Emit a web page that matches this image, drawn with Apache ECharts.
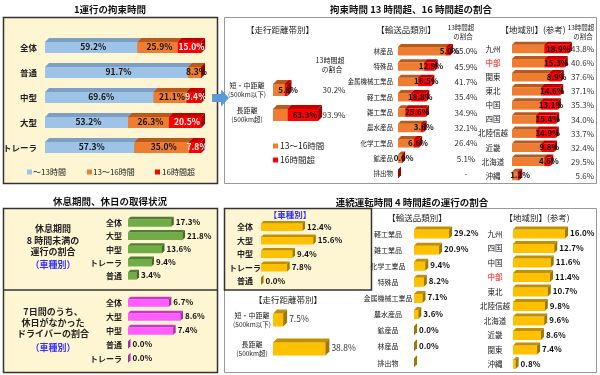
<!DOCTYPE html>
<html><head><meta charset="utf-8">
<script src="https://cdn.jsdelivr.net/npm/echarts@6/dist/echarts.min.js"></script>
<style>html,body{margin:0;padding:0;background:#fff}#c{width:600px;height:375px}</style>
</head><body><div id="c"></div>
<script>
const FF = '"Noto Sans CJK JP","Noto Sans",sans-serif';

// ---- data ----
const bindCats = ['全体','普通','中型','大型','トレーラ'];
const bindUnder13 = [59.2, 91.7, 69.6, 53.2, 57.3];
const bind13to16 = [25.9, 8.3, 21.1, 26.3, 35.0];
const bindOver16 = [15.0, 0, 9.4, 20.5, 7.8];

const distCats = ['短・中距離\n(500km以下)', '長距離\n(500km超)'];
const distOver13 = [30.2, 93.9];
const distOver16 = [5.8, 63.3];

const goodsCats = ['林産品','特殊品','金属機械工業品','軽工業品','雑工業品','農水産品','化学工業品','鉱産品','排出物'];
const goodsOver13 = [65.0, 45.9, 41.7, 35.4, 34.9, 32.1, 26.4, 5.1, null];
const goodsOver16 = [5.0, 12.9, 16.5, 18.8, 25.6, 3.6, 6.6, 0.0, null];

const regionCats = ['九州','中部','関東','東北','中国','四国','北陸信越','近畿','北海道','沖縄'];
const regionOver13 = [43.8, 40.6, 37.6, 37.1, 35.3, 34.0, 33.7, 32.4, 29.5, 5.6];
const regionOver16 = [18.9, 15.3, 8.9, 14.6, 13.1, 15.4, 14.9, 9.8, 4.6, 1.2];

const restCats = ['全体','大型','中型','トレーラ','普通'];
const restUnder8h = [17.3, 21.8, 13.6, 9.4, 3.4];

const holidayCats = ['全体','大型','中型','普通','トレーラ'];
const noHoliday = [6.7, 8.6, 7.4, 0.0, 0.0];

const driveVehCats = ['全体','大型','中型','トレーラ','普通'];
const driveVeh = [12.4, 15.6, 9.4, 7.8, 0.0];

const driveDistCats = ['短・中距離\n(500km以下)', '長距離\n(500km超)'];
const driveDist = [7.5, 38.8];

const driveGoodsCats = ['軽工業品','雑工業品','化学工業品','特殊品','金属機械工業品','農水産品','鉱産品','林産品','排出物'];
const driveGoods = [29.2, 20.9, 9.4, 8.2, 7.1, 3.6, 0.0, 0.0, null];

const driveRegionCats = ['九州','四国','中国','中部','東北','北陸信越','北海道','近畿','関東','沖縄'];
const driveRegion = [16.0, 12.7, 11.6, 11.4, 10.7, 9.8, 9.6, 8.6, 7.4, 0.8];

// ---- colours ----
const C = {
  blue:  {front:'#9DC3E6', top:'#7F9FC2', side:'#6C8DB0'},
  orange:{front:'#EE7D31', top:'#B85A1E', side:'#A34F19'},
  red:   {front:'#FF0000', top:'#C00000', side:'#A00000'},
  green: {front:'#70AD47', top:'#507E32', side:'#44692A'},
  pink:  {front:'#FF5CFF', top:'#C23BC2', side:'#A52FA5'},
  gold:  {front:'#FFC000', top:'#BF9000', side:'#A07800'}
};
const pct = v => (v == null ? null : v.toFixed(1) + '%');

const grids = [], xAxes = [], yAxes = [], series = [];

function catLabel(o) {
  return Object.assign({fontFamily: FF, fontSize: 8, color: '#222'}, o);
}
function addPanel(p) {
  const gi = grids.length;
  grids.push({left: p.left, top: p.top, width: p.max * p.scale, height: p.catH * p.cats.length});
  xAxes.push({gridIndex: gi, type: 'value', min: 0, max: p.max, show: false});
  const yi = yAxes.length;
  yAxes.push({gridIndex: gi, type: 'category', data: p.cats, inverse: true,
    axisLine: {show: false}, axisTick: {show: false}, splitLine: {show: false},
    axisLabel: p.label});
  if (p.rightCats) {
    yAxes.push({gridIndex: gi, type: 'category', data: p.rightCats, inverse: true, position: 'right',
      axisLine: {show: false}, axisTick: {show: false}, splitLine: {show: false},
      axisLabel: p.rightLabel});
  }
  return {xi: gi, yi};
}

function seg3d(ax, data, labels, col, st) {
  series.push({
    type: 'custom', xAxisIndex: ax.xi, yAxisIndex: ax.yi, clip: false, silent: true,
    data: data, encode: {x: [1, 2], y: 0},
    renderItem(params, api) {
      const cat = api.value(0), s = api.value(1), e = api.value(2);
      const a = api.coord([s, cat]), b = api.coord([e, cat]);
      const h = st.h, d = st.d, x0 = a[0], x1 = Math.max(b[0], a[0]), yc = a[1];
      const yt = yc - h / 2, yb = yc + h / 2;
      const ch = [
        {type: 'rect', shape: {x: x0, y: yt, width: x1 - x0, height: h}, style: {fill: col.front}},
        {type: 'polygon', shape: {points: [[x0, yt], [x0 + d, yt - d], [x1 + d, yt - d], [x1, yt]]}, style: {fill: col.top}},
        {type: 'polygon', shape: {points: [[x1, yt], [x1 + d, yt - d], [x1 + d, yb - d], [x1, yb]]}, style: {fill: col.side}}
      ];
      const lab = labels ? labels[params.dataIndex] : null;
      if (lab != null) {
        const base = {text: lab, fill: st.lc || '#111', fontFamily: FF, fontSize: st.fs || 8,
          fontWeight: st.fw || 'bold', verticalAlign: 'middle'};
        if (st.pos === 'center') {
          ch.push({type: 'text', z2: 10, style: Object.assign(base, {x: (x0 + x1) / 2 + d / 2, y: yc - 0.5, align: 'center'})});
        } else {
          ch.push({type: 'text', z2: 10, style: Object.assign(base, {x: x1 + d + 2, y: yc - d / 2 + 0.5, align: 'left'})});
        }
      }
      return {type: 'group', children: ch};
    }
  });
}

// ---- panel 1: 1運行の拘束時間 ----
const p1 = addPanel({left: 43, top: 35, catH: 25, cats: bindCats, max: 100, scale: 1.58,
  label: catLabel({fontSize: 8.5, fontWeight: 'bold', margin: 8})});
{
  const st = {h: 11, d: 4, pos: 'center', fs: 8.5};
  seg3d(p1, bindCats.map((c, i) => [i, 0, bindUnder13[i]]), bindUnder13.map(pct), C.blue, st);
  seg3d(p1, bindCats.map((c, i) => [i, bindUnder13[i], bindUnder13[i] + bind13to16[i]]), bind13to16.map(pct), C.orange, st);
  seg3d(p1, bindCats.map((c, i) => [i, bindUnder13[i] + bind13to16[i], bindUnder13[i] + bind13to16[i] + bindOver16[i]]),
    bindOver16.map(v => v > 0 ? pct(v) : null), C.red, Object.assign({}, st, {lc: '#fff'}));
}

// ---- panel 2a: distance ----
const twoLine = (fa, fb) => ({
  formatter: v => { const t = v.split('\n'); return '{a|' + t[0] + '}\n{b|' + t[1] + '}'; },
  rich: {a: {fontFamily: FF, fontSize: fa, color: '#222', lineHeight: 10, align: 'center'},
         b: {fontFamily: FF, fontSize: fb, color: '#222', lineHeight: 9, align: 'center'}}
});
const p2a = addPanel({left: 273, top: 77.5, catH: 25, cats: distCats, max: 100, scale: 0.48,
  label: Object.assign(catLabel({align: 'center', margin: 26}), twoLine(7, 6.5)),
  rightCats: distOver13.map(pct), rightLabel: catLabel({fontSize: 8, align: 'center', margin: 13, color: '#333'})});
{
  const st = {h: 12, d: 4, pos: 'center', fs: 8};
  seg3d(p2a, distCats.map((c, i) => [i, 0, distOver13[i] - distOver16[i]]), null, C.orange, st);
  seg3d(p2a, distCats.map((c, i) => [i, distOver13[i] - distOver16[i], distOver13[i]]), distOver16.map(pct), C.red, st);
}

// ---- panel 2b: goods ----
const p2b = addPanel({left: 398, top: 43.5, catH: 15.35, cats: goodsCats, max: 100, scale: 0.8,
  label: catLabel({fontSize: 6.5, align: 'right', margin: 5}),
  rightCats: goodsOver13.map(v => v == null ? '-' : pct(v)),
  rightLabel: catLabel({fontSize: 8, align: 'center', margin: -12, color: '#333'})});
{
  const st = {h: 8.5, d: 3, pos: 'center', fs: 8};
  seg3d(p2b, goodsCats.map((c, i) => [i, 0, (goodsOver13[i] || 0) - (goodsOver16[i] || 0)]), null, C.orange, st);
  seg3d(p2b, goodsCats.map((c, i) => [i, (goodsOver13[i] || 0) - (goodsOver16[i] || 0), goodsOver13[i] || 0]), goodsOver16.map(pct), C.red, st);
}

// ---- panel 2c: region ----
const redChubu = {
  formatter: v => v === '中部' ? '{r|' + v + '}' : v,
  rich: {r: {color: '#FF0000', fontFamily: FF, fontSize: 7.5}}
};
const p2c = addPanel({left: 512, top: 42, catH: 14.1, cats: regionCats, max: 50, scale: 1.3,
  label: Object.assign(catLabel({fontSize: 7.5, align: 'center', margin: 19}), redChubu),
  rightCats: regionOver13.map(pct), rightLabel: catLabel({fontSize: 8, align: 'right', margin: 17, color: '#333'})});
{
  const st = {h: 8.5, d: 3, pos: 'center', fs: 8};
  seg3d(p2c, regionCats.map((c, i) => [i, 0, regionOver13[i] - regionOver16[i]]), null, C.orange, st);
  seg3d(p2c, regionCats.map((c, i) => [i, regionOver13[i] - regionOver16[i], regionOver13[i]]), regionOver16.map(pct), C.red, st);
}

// ---- panel 3: rest ----
const p3a = addPanel({left: 128, top: 216.5, catH: 13.2, cats: restCats, max: 30, scale: 2.5,
  label: catLabel({fontSize: 8, fontWeight: 'bold', align: 'right', margin: 6})});
seg3d(p3a, restCats.map((c, i) => [i, 0, restUnder8h[i]]), restUnder8h.map(pct), C.green, {h: 7.5, d: 2.5, pos: 'right', fs: 8});

const p3b = addPanel({left: 128, top: 296, catH: 14, cats: holidayCats, max: 10, scale: 6.1,
  label: catLabel({fontSize: 8, fontWeight: 'bold', align: 'right', margin: 6})});
seg3d(p3b, holidayCats.map((c, i) => [i, 0, noHoliday[i]]), noHoliday.map(pct), C.pink, {h: 7.5, d: 2.5, pos: 'right', fs: 8});

// ---- panel 4: continuous driving ----
const p4a = addPanel({left: 261, top: 220.5, catH: 13.5, cats: driveVehCats, max: 20, scale: 3.35,
  label: catLabel({fontSize: 8, fontWeight: 'bold', align: 'center', margin: 16})});
seg3d(p4a, driveVehCats.map((c, i) => [i, 0, driveVeh[i]]), driveVeh.map(pct), C.gold, {h: 7.5, d: 2.5, pos: 'right', fs: 8});

const p4b = addPanel({left: 273, top: 305.5, catH: 29, cats: driveDistCats, max: 50, scale: 1.35,
  label: Object.assign(catLabel({align: 'center', margin: 21}), twoLine(7, 6.5))});
seg3d(p4b, driveDistCats.map((c, i) => [i, 0, driveDist[i]]), driveDist.map(pct), C.gold, {h: 13, d: 4, pos: 'right', fs: 8.5, fw: 'normal', lc: '#333'});

const p4c = addPanel({left: 414, top: 226, catH: 16.1, cats: driveGoodsCats, max: 40, scale: 1.2,
  label: catLabel({fontSize: 7, align: 'center', margin: 26})});
seg3d(p4c, driveGoodsCats.map((c, i) => [i, 0, driveGoods[i] || 0]), driveGoods.map(pct), C.gold, {h: 9, d: 3, pos: 'right', fs: 8});

const p4d = addPanel({left: 513, top: 226.75, catH: 14.5, cats: driveRegionCats, max: 20, scale: 3.25,
  label: Object.assign(catLabel({fontSize: 7.5, align: 'center', margin: 18}), redChubu)});
seg3d(p4d, driveRegionCats.map((c, i) => [i, 0, driveRegion[i]]), driveRegion.map(pct), C.gold, {h: 9, d: 3, pos: 'right', fs: 8});

// ---- graphics ----
const YEL = '#FEF5D2';
const txt = (x, y, t, o) => ({type: 'text', z: 50, x, y,
  style: Object.assign({text: t, fontFamily: FF, fontSize: 8, fill: '#222', align: 'center', verticalAlign: 'middle'}, o || {})});
const box = (x, y, w, h, fill, stroke, lw) => ({type: 'rect', z: 0, shape: {x, y, width: w, height: h},
  style: {fill, stroke, lineWidth: lw}});
const sq = (x, y, c) => ({type: 'rect', z: 50, shape: {x, y: y - 2.5, width: 5, height: 5}, style: {fill: c}});
const bold = {fontWeight: 'bold', fontSize: 9.5, fill: '#111'};

const graphic = [
  box(3.5, 17.5, 214, 166, YEL, '#333', 1.5),
  box(224.5, 17.5, 372, 166, '#fff', '#999', 1),
  box(3.5, 208.5, 214, 164, YEL, '#333', 1.5),
  {type: 'line', z: 1, shape: {x1: 3.5, y1: 290, x2: 217.5, y2: 290}, style: {stroke: '#333', lineWidth: 1.5}},
  box(224.5, 208.5, 372, 164, '#fff', '#999', 1),
  box(224.5, 208.5, 147, 81.5, YEL, '#333', 1.5),
  {type: 'polygon', z: 60, shape: {points: [[212, 94], [221, 94], [221, 89.5], [229, 98], [221, 106.5], [221, 102], [212, 102]]},
    style: {fill: '#5B9BD5'}},
  txt(110, 9, '1運行の拘束時間', bold),
  txt(411, 9, '拘束時間 13 時間超、16 時間超の割合', bold),
  txt(110, 201, '休息期間、休日の取得状況', bold),
  txt(412, 202, '連続運転時間 4 時間超の運行の割合', bold),
  // panel 1 legend
  sq(27, 172, '#9DC3E6'), txt(33, 172, '～13時間', {align: 'left', fontSize: 8}),
  sq(87, 172, '#EE7D31'), txt(93, 172, '13～16時間', {align: 'left', fontSize: 8}),
  sq(155, 172, '#FF0000'), txt(162, 172, '16時間超', {align: 'left', fontSize: 8}),
  // panel 2 texts
  txt(280, 30, '【走行距離帯別】', {fontSize: 8.5}),
  txt(406, 30, '【輸送品類別】', {fontSize: 8.5}),
  txt(533, 30, '【地域別】(参考)', {fontSize: 8.5}),
  txt(330, 60, '13時間超', {fontSize: 7}), txt(332, 69, 'の割合', {fontSize: 7}),
  txt(461, 28, '13時間超', {fontSize: 6.5}), txt(463, 37, 'の割合', {fontSize: 6.5}),
  txt(581, 28, '13時間超', {fontSize: 6.5}), txt(583, 37, 'の割合', {fontSize: 6.5}),
  sq(273, 146, '#EE7D31'), txt(280, 146, '13～16時間', {align: 'left', fontSize: 8.5}),
  sq(273, 160, '#FF0000'), txt(280, 160, '16時間超', {align: 'left', fontSize: 8.5}),
  // panel 3 texts
  txt(53, 229, '休息期間', {fontWeight: 'bold', fontSize: 9}),
  txt(53, 240.5, '8 時間未満の', {fontWeight: 'bold', fontSize: 9}),
  txt(53, 252, '運行の割合', {fontWeight: 'bold', fontSize: 9}),
  txt(53, 264.5, '（車種別）', {fontWeight: 'bold', fontSize: 9, fill: '#3333FF'}),
  txt(53, 312, '7日間のうち、', {fontWeight: 'bold', fontSize: 9}),
  txt(53, 323, '休日がなかった', {fontWeight: 'bold', fontSize: 9}),
  txt(53, 334, 'ドライバーの割合', {fontWeight: 'bold', fontSize: 9}),
  txt(53, 348, '（車種別）', {fontWeight: 'bold', fontSize: 9, fill: '#3333FF'}),
  // panel 4 texts
  txt(290, 215, '【車種別】', {fontWeight: 'bold', fontSize: 8.5, fill: '#3333FF'}),
  txt(288, 300, '【走行距離帯別】', {fontSize: 8.5}),
  txt(417, 218, '【輸送品類別】', {fontSize: 8.5}),
  txt(537, 218, '【地域別】(参考)', {fontSize: 8.5})
];

const chart = echarts.init(document.getElementById('c'), null, {renderer: 'canvas'});
chart.setOption({
  animation: false,
  backgroundColor: '#fff',
  textStyle: {fontFamily: FF},
  grid: grids, xAxis: xAxes, yAxis: yAxes, series,
  graphic
});
</script></body></html>
